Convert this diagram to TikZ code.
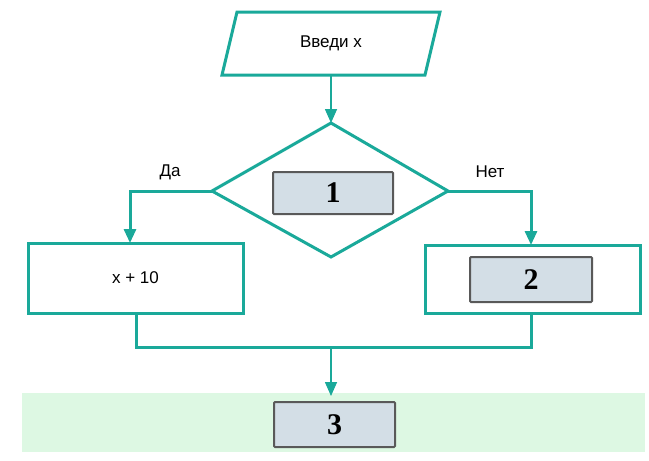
\documentclass[tikz,border=0pt]{standalone}
\usetikzlibrary{arrows.meta}
\usepackage{fontspec}
\setmainfont{Liberation Sans}
\newfontfamily\numfont{Liberation Serif}
\definecolor{teal1}{HTML}{1AA99A}
\definecolor{slot}{HTML}{D3DEE6}
\definecolor{band}{HTML}{DDF8E3}
\begin{document}
\begin{tikzpicture}[x=1pt,y=-1pt,
  shp/.style={draw=teal1,line width=3pt,fill=white},
  slotbox/.style={draw=gray!70!black,line width=2pt,fill=slot,rounded corners=1pt},
  conn/.style={draw=teal1,line width=3pt},
  thin/.style={draw=teal1,line width=1.6pt},
  tip/.style={-{Triangle[length=14pt,width=12pt]}},
  num/.style={font=\numfont\bfseries\fontsize{30}{30}\selectfont},
  lbl/.style={font=\fontsize{17}{19}\selectfont}]
\useasboundingbox (0,0) rectangle (649,461);
\fill[band] (22,393) rectangle (645,452);
% input parallelogram
\draw[shp] (237,12) -- (440,12) -- (425,75) -- (222,75) -- cycle;
\node[lbl] (inp) at (331,43) {Введи x};
\coordinate (inb) at (331,75);
% diamond
\draw[shp] (331,123) -- (448,191) -- (331,257) -- (212,191) -- cycle;
\coordinate (dt) at (331,123);
\coordinate (dl) at (212,191);
\coordinate (dr) at (448,191);
\node[slotbox,minimum width=120pt,minimum height=42pt,num] (s1) at (333,193) {1};
% boxes
\node[shp,minimum width=215pt,minimum height=70pt,lbl] (lb) at (135.5,278) {x + 10};
\node[shp,minimum width=215pt,minimum height=68pt] (rb) at (532.5,279) {};
\node[slotbox,minimum width=122pt,minimum height=45pt,num] (s2) at (531,279.5) {2};
\node[slotbox,minimum width=121pt,minimum height=45pt,num] (s3) at (334.5,424.5) {3};
% connectors
\coordinate (la) at (130,243);
\coordinate (ra) at (531,245);
\coordinate (lo) at (136,313);
\coordinate (ro) at (531,313);
\coordinate (mj) at (331,347);
\coordinate (be) at (331,396);
\draw[thin,tip] (inb) -- (dt);
\draw[conn,tip] (dl) -- (130,191) -- (la);
\draw[conn,tip] (dr) -- (531,191) -- (ra);
\draw[conn] (lo) -- (136,347) -- (531,347) -- (ro);
\draw[thin,tip] (mj) -- (be);
\node[lbl] (da) at (170,172) {Да};
\node[lbl] (net) at (490,172) {Нет};
\end{tikzpicture}
\end{document}
